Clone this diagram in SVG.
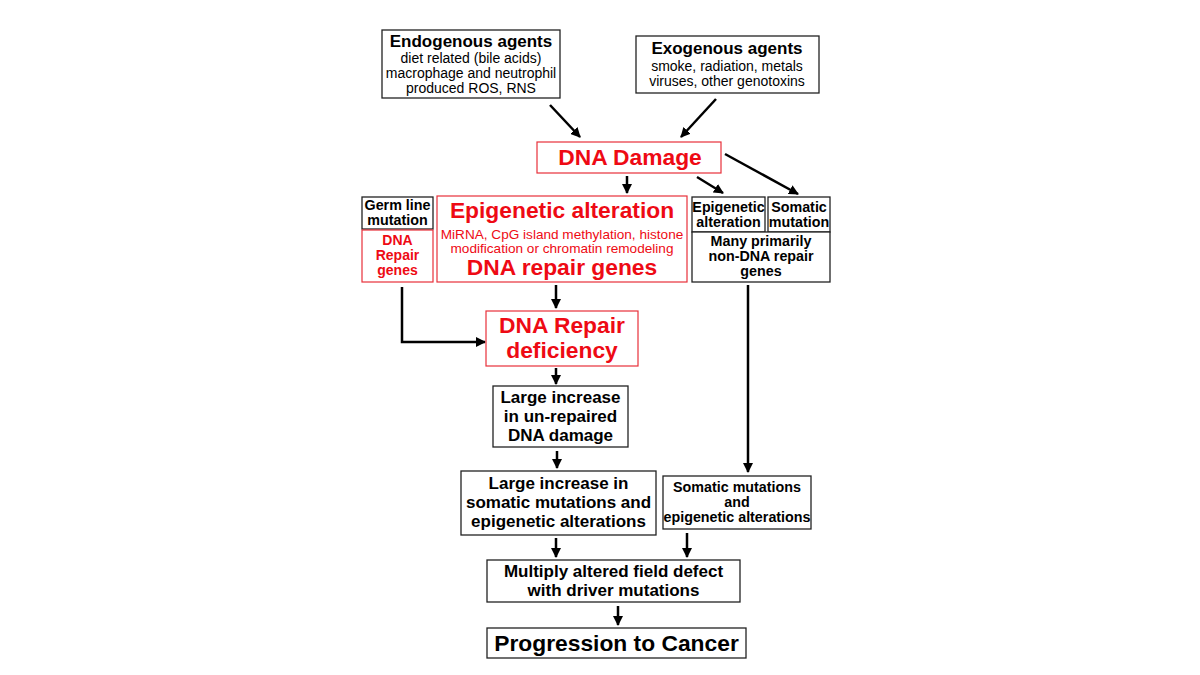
<svg xmlns="http://www.w3.org/2000/svg" width="1200" height="675" viewBox="0 0 1200 675">
<defs>
<marker id="ah" markerWidth="10" markerHeight="10" refX="9" refY="5" orient="auto" markerUnits="userSpaceOnUse">
<path d="M0,0 L10,5 L0,10 Z" fill="#000"/>
</marker>
<style>
text{font-family:"Liberation Sans",Arial,sans-serif;text-anchor:middle;fill:#000}
.b{font-weight:bold}
.r{fill:#ee0a14}
.bx{fill:#fff;stroke:#222;stroke-width:1.3}
.rbx{fill:#fff;stroke:#e8303a;stroke-width:1.2}
.c{fill:none;stroke:#000;stroke-width:2.5;marker-end:url(#ah)}
.s13{font-size:13.6px}
.s14{font-size:14px}
.s14b{font-size:14.3px}
.s16{font-size:17px}
.s22{font-size:22.8px}
</style>
</defs>
<rect width="1200" height="675" fill="#fff"/>
<g id="connectors">
<path class="c" d="M550,105 L580,137"/>
<path class="c" d="M716,99 L681,137"/>
<path class="c" d="M627,176 L627,193"/>
<path class="c" d="M697,177 L723,193"/>
<path class="c" d="M725,154 L798,194"/>
<path class="c" d="M402,287 L402,342 L485,342"/>
<path class="c" d="M556,285 L556,308"/>
<path class="c" d="M556,368 L556,384"/>
<path class="c" d="M748,285 L748,472"/>
<path class="c" d="M557,451 L557,468"/>
<path class="c" d="M556,538 L556,557"/>
<path class="c" d="M687,533 L687,557"/>
<path class="c" d="M618,606 L618,625"/>
</g>
<g id="endogenous">
<rect class="bx" x="382" y="30" width="178" height="68"/>
<text class="b s16" x="471" y="47">Endogenous agents</text>
<text class="s14" x="471" y="63">diet related (bile acids)</text>
<text class="s14" x="471" y="78">macrophage and neutrophil</text>
<text class="s14" x="471" y="93">produced ROS, RNS</text>
</g>
<g id="exogenous">
<rect class="bx" x="636" y="36" width="183" height="57"/>
<text class="b s16" x="727" y="54">Exogenous agents</text>
<text class="s14" x="727" y="71">smoke, radiation, metals</text>
<text class="s14" x="727" y="86">viruses, other genotoxins</text>
</g>
<g id="dna-damage">
<rect class="rbx" x="537" y="142" width="184" height="31"/>
<text class="b s22 r" x="630" y="165">DNA Damage</text>
</g>
<g id="germ-line">
<rect class="bx" x="362" y="197" width="71" height="32"/>
<text class="b s14b" x="397.5" y="210">Germ line</text>
<text class="b s14b" x="397.5" y="225">mutation</text>
</g>
<g id="germ-dna-repair">
<rect class="rbx" x="362" y="230" width="71" height="52"/>
<text class="b s14 r" x="397.5" y="245">DNA</text>
<text class="b s14 r" x="397.5" y="260">Repair</text>
<text class="b s14 r" x="397.5" y="275">genes</text>
</g>
<g id="epigenetic-big">
<rect class="rbx" x="437" y="196" width="250" height="86"/>
<text class="b s22 r" x="562" y="218">Epigenetic alteration</text>
<text class="s13 r" x="562" y="239">MiRNA, CpG island methylation, histone</text>
<text class="s13 r" x="562" y="253">modification or chromatin remodeling</text>
<text class="b s22 r" x="562" y="275">DNA repair genes</text>
</g>
<g id="epigenetic-small">
<rect class="bx" x="692" y="197" width="73" height="35"/>
<text class="b s14b" x="728.5" y="212">Epigenetic</text>
<text class="b s14b" x="728.5" y="227">alteration</text>
</g>
<g id="somatic-small">
<rect class="bx" x="768" y="197" width="62" height="35"/>
<text class="b s14b" x="799" y="212">Somatic</text>
<text class="b s14b" x="799" y="227">mutation</text>
</g>
<g id="many-genes">
<rect class="bx" x="692" y="232" width="138" height="50"/>
<text class="b s14b" x="761" y="246">Many primarily</text>
<text class="b s14b" x="761" y="261">non-DNA repair</text>
<text class="b s14b" x="761" y="276">genes</text>
</g>
<g id="repair-deficiency">
<rect class="rbx" x="486" y="311" width="152" height="55"/>
<text class="b s22 r" x="562" y="333">DNA Repair</text>
<text class="b s22 r" x="562" y="358">deficiency</text>
</g>
<g id="unrepaired">
<rect class="bx" x="493" y="386" width="135" height="61"/>
<text class="b s16" x="560.5" y="403">Large increase</text>
<text class="b s16" x="560.5" y="422">in un-repaired</text>
<text class="b s16" x="560.5" y="441">DNA damage</text>
</g>
<g id="large-somatic">
<rect class="bx" x="461" y="471" width="195" height="64"/>
<text class="b s16" x="558.5" y="489">Large increase in</text>
<text class="b s16" x="558.5" y="508">somatic mutations and</text>
<text class="b s16" x="558.5" y="527">epigenetic alterations</text>
</g>
<g id="somatic-epi">
<rect class="bx" x="663" y="476" width="148" height="53"/>
<text class="b s14b" x="737" y="492">Somatic mutations</text>
<text class="b s14b" x="737" y="507">and</text>
<text class="b s14b" x="737" y="522">epigenetic alterations</text>
</g>
<g id="field-defect">
<rect class="bx" x="487" y="560" width="253" height="42"/>
<text class="b s16" x="613.5" y="577">Multiply altered field defect</text>
<text class="b s16" x="613.5" y="596">with driver mutations</text>
</g>
<g id="cancer">
<rect class="bx" x="487" y="628" width="259" height="30"/>
<text class="b s22" x="616.5" y="651">Progression to Cancer</text>
</g>
</svg>
